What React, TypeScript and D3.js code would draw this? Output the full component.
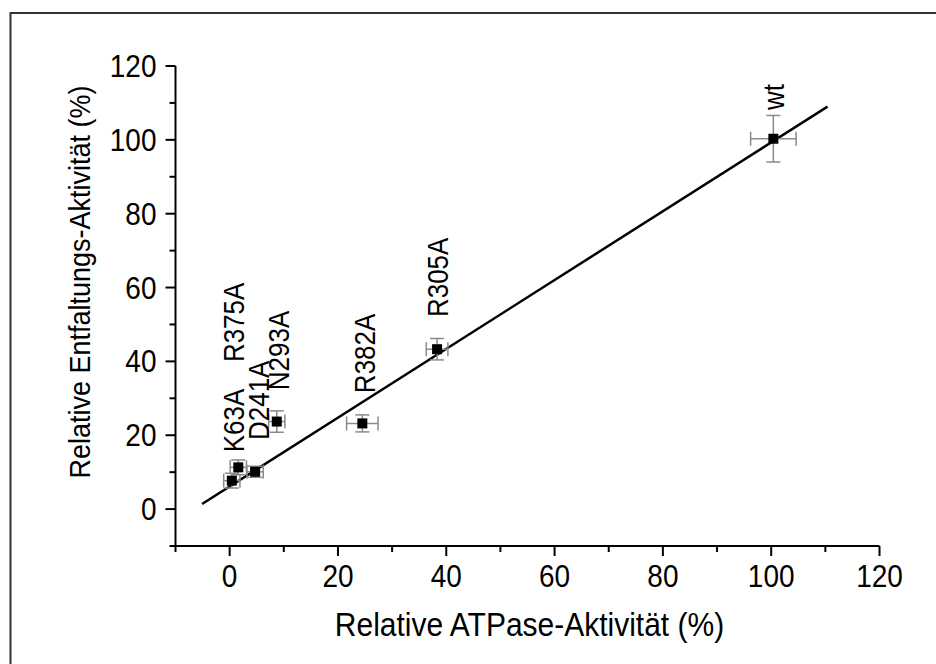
import React from "react";
import * as d3 from "d3";

const names = ["K63A", "R375A", "D241A", "N293A", "R382A", "R305A", "wt"];
const atpase = [0.4, 1.6, 4.7, 8.7, 24.5, 38.3, 100.4];
const atpaseErr = [1.5, 1.5, 1.5, 1.5, 2.9, 2.0, 4.2];
const unfolding = [7.7, 11.3, 10.1, 23.7, 23.2, 43.3, 100.3];
const unfoldingErr = [2.0, 2.0, 1.5, 2.9, 2.3, 2.9, 6.3];
// label anchors (data units): baseline x, start y
const labelX = [2.3, 2.3, 6.9, 10.6, 26.5, 40.1, 102];
const labelY = [15.4, 39.8, 18.7, 32.2, 31.4, 52, 108.1];
// linear fit
const fitX = [-5.1, 110.4];
const fitIntercept = 6.11;
const fitSlope = 0.932;

const majorTicks = [0, 20, 40, 60, 80, 100, 120];
const minorTicks = [-10, 10, 30, 50, 70, 90, 110];

const W = 936;
const H = 664;
const FONT = "'Liberation Sans', Arial, sans-serif";

export default function App() {
  const x = d3.scaleLinear().domain([-10, 120]).range([175.5, 879.5]);
  const y = d3.scaleLinear().domain([-10, 120]).range([546, 66]);
  const line = d3
    .line<number>()
    .x((d) => x(d))
    .y((d) => y(fitIntercept + fitSlope * d));
  const cap = 7;
  const ms = 10;
  const errColor = "#8a8a8a";

  return (
    <svg
      width={W}
      height={H}
      style={{ position: "absolute", left: 0, top: 0, background: "#fff" }}
      fontFamily={FONT}
    >
      <rect x={0} y={0} width={W} height={H} fill="#fff" />
      <path d={`M10.5,${H} L10.5,13 L${W},13`} fill="none" stroke="#333" strokeWidth={2} />

      {/* axes */}
      <line x1={x(-10)} x2={x(120)} y1={y(-10)} y2={y(-10)} stroke="#000" strokeWidth={2} />
      <line x1={x(-10)} x2={x(-10)} y1={y(-10)} y2={y(120)} stroke="#000" strokeWidth={2} />
      {majorTicks.map((t) => (
        <g key={"xm" + t}>
          <line x1={x(t)} x2={x(t)} y1={y(-10)} y2={y(-10) + 10} stroke="#000" strokeWidth={2} />
          <text
            transform={`translate(${x(t)},${y(-10) + 41}) scale(1,1.12)`}
            fontSize={28}
            textAnchor="middle"
            fill="#000"
          >
            {t}
          </text>
        </g>
      ))}
      {minorTicks.map((t) => (
        <line key={"xn" + t} x1={x(t)} x2={x(t)} y1={y(-10)} y2={y(-10) + 6} stroke="#000" strokeWidth={2} />
      ))}
      {majorTicks.map((t) => (
        <g key={"ym" + t}>
          <line x1={x(-10) - 10} x2={x(-10)} y1={y(t)} y2={y(t)} stroke="#000" strokeWidth={2} />
          <text
            transform={`translate(${x(-10) - 19},${y(t) + 11}) scale(1,1.12)`}
            fontSize={28}
            textAnchor="end"
            fill="#000"
          >
            {t}
          </text>
        </g>
      ))}
      {minorTicks.map((t) => (
        <line key={"yn" + t} x1={x(-10) - 6} x2={x(-10)} y1={y(t)} y2={y(t)} stroke="#000" strokeWidth={2} />
      ))}

      <text
        transform={`translate(529.5,636) scale(1,1.1)`}
        fontSize={30}
        textAnchor="middle"
        fill="#000"
      >
        Relative ATPase-Aktivität (%)
      </text>
      <text
        transform={`translate(90,282) rotate(-90) scale(1,1.1)`}
        fontSize={27}
        textAnchor="middle"
        fill="#000"
      >
        Relative Entfaltungs-Aktivität (%)
      </text>

      {/* fit line */}
      <path d={line(fitX) || ""} fill="none" stroke="#000" strokeWidth={2.5} />

      {/* error bars */}
      {names.map((n, i) => {
        const cx = x(atpase[i]);
        const cy = y(unfolding[i]);
        const x0 = x(atpase[i] - atpaseErr[i]);
        const x1 = x(atpase[i] + atpaseErr[i]);
        const y0 = y(unfolding[i] - unfoldingErr[i]);
        const y1 = y(unfolding[i] + unfoldingErr[i]);
        return (
          <g key={"e" + n} stroke={errColor} strokeWidth={1.5} fill="none">
            <line x1={x0} x2={x1} y1={cy} y2={cy} />
            <line x1={x0} x2={x0} y1={cy - cap} y2={cy + cap} />
            <line x1={x1} x2={x1} y1={cy - cap} y2={cy + cap} />
            <line x1={cx} x2={cx} y1={y0} y2={y1} />
            <line x1={cx - cap} x2={cx + cap} y1={y0} y2={y0} />
            <line x1={cx - cap} x2={cx + cap} y1={y1} y2={y1} />
          </g>
        );
      })}

      {/* markers */}
      {names.map((n, i) => (
        <rect
          key={"m" + n}
          x={x(atpase[i]) - ms / 2}
          y={y(unfolding[i]) - ms / 2}
          width={ms}
          height={ms}
          fill="#000"
        />
      ))}

      {/* labels */}
      {names.map((n, i) => (
        <text
          key={"l" + n}
          transform={`translate(${x(labelX[i]) + 1.5},${y(labelY[i])}) rotate(-90) scale(1,1.15)`}
          fontSize={26}
          fill="#000"
        >
          {n}
        </text>
      ))}
    </svg>
  );
}
